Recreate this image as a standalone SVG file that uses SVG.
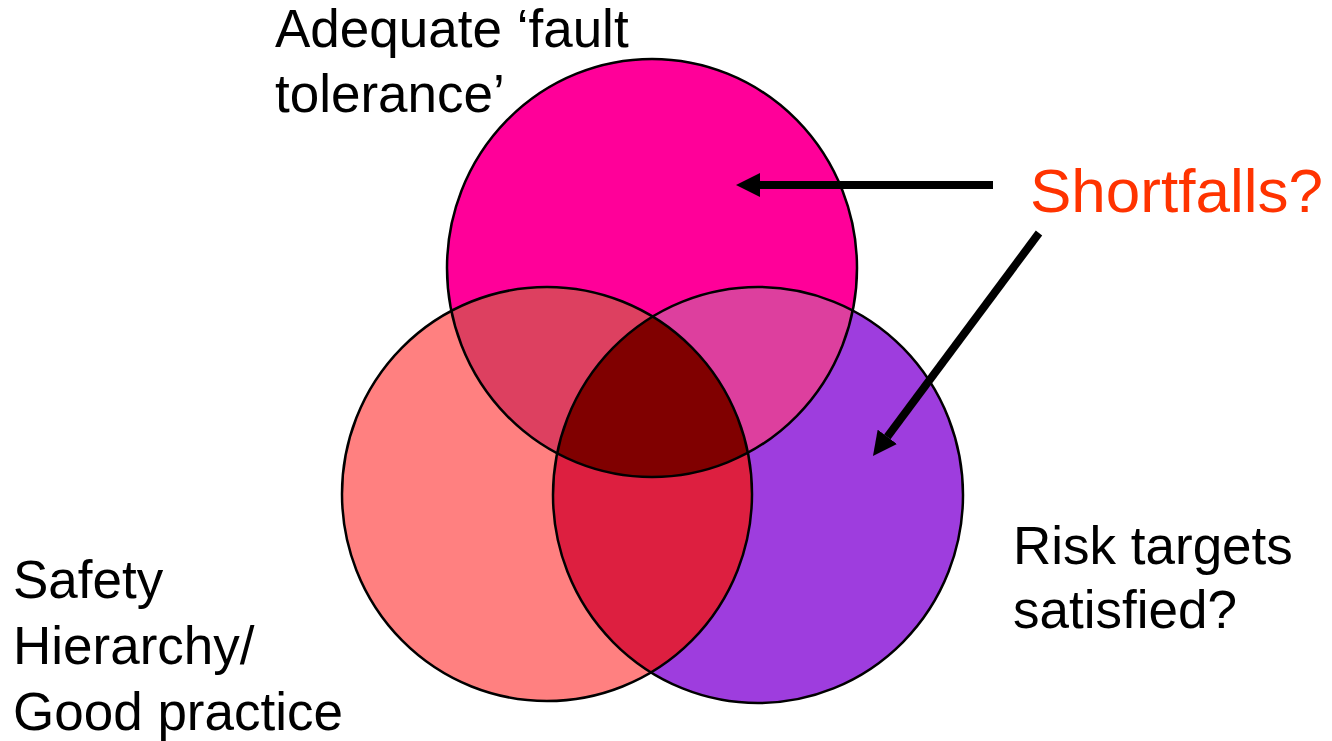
<svg xmlns="http://www.w3.org/2000/svg" width="1332" height="741" viewBox="0 0 1332 741">
  <style>
    .lbl { font-family: "Liberation Sans", Arial, sans-serif; font-size: 53px; fill: #000000; }
    .hot { font-family: "Liberation Sans", Arial, sans-serif; font-size: 62px; fill: #FF3300; }
    .ring { fill: none; stroke: #000000; stroke-width: 2.5; }
    .conn { stroke: #000000; stroke-width: 8; fill: none; marker-end: url(#head); }
  </style>
  <defs>
    <clipPath id="cTop"><ellipse cx="652" cy="268" rx="205" ry="209"/></clipPath>
    <clipPath id="cLeft"><ellipse cx="547" cy="494" rx="205" ry="207"/></clipPath>
    <marker id="head" viewBox="0 0 24 24" refX="0" refY="12" markerWidth="3" markerHeight="3" orient="auto" markerUnits="strokeWidth">
      <path d="M0,0 L24,12 L0,24 Z" fill="#000000"/>
    </marker>
  </defs>
  <rect width="1332" height="741" fill="#FFFFFF"/>

  <g id="venn">
    <g id="circle-top"><ellipse cx="652" cy="268" rx="205" ry="209" fill="#FF0099"/></g>
    <g id="circle-left"><ellipse cx="547" cy="494" rx="205" ry="207" fill="#FF8080"/></g>
    <g id="circle-right"><ellipse cx="758" cy="495" rx="205" ry="208" fill="#9E3DDE"/></g>
    <g id="overlap-top-left" clip-path="url(#cTop)"><ellipse cx="547" cy="494" rx="205" ry="207" fill="#DD4060"/></g>
    <g id="overlap-top-right" clip-path="url(#cTop)"><ellipse cx="758" cy="495" rx="205" ry="208" fill="#DD3F9E"/></g>
    <g id="overlap-left-right" clip-path="url(#cLeft)"><ellipse cx="758" cy="495" rx="205" ry="208" fill="#DD1F40"/></g>
    <g id="overlap-center" clip-path="url(#cTop)"><g clip-path="url(#cLeft)"><ellipse cx="758" cy="495" rx="205" ry="208" fill="#800000"/></g></g>
    <g id="outlines">
      <ellipse class="ring" cx="652" cy="268" rx="205" ry="209"/>
      <ellipse class="ring" cx="547" cy="494" rx="205" ry="207"/>
      <ellipse class="ring" cx="758" cy="495" rx="205" ry="208"/>
    </g>
  </g>

  <g id="label-fault-tolerance">
    <text class="lbl" x="275" y="47">Adequate ‘fault</text>
    <text class="lbl" x="275" y="112">tolerance’</text>
  </g>
  <g id="label-safety">
    <text class="lbl" x="13" y="598">Safety</text>
    <text class="lbl" x="13" y="664">Hierarchy/</text>
    <text class="lbl" x="13" y="730">Good practice</text>
  </g>
  <g id="label-risk">
    <text class="lbl" x="1013" y="564">Risk targets</text>
    <text class="lbl" x="1013" y="628">satisfied?</text>
  </g>
  <g id="label-shortfalls">
    <text class="hot" x="1030" y="212">Shortfalls?</text>
  </g>

  <g id="connectors">
    <line class="conn" x1="993" y1="185" x2="760" y2="185"/>
    <line class="conn" x1="1039" y1="233" x2="887.3" y2="436.8"/>
  </g>
</svg>
